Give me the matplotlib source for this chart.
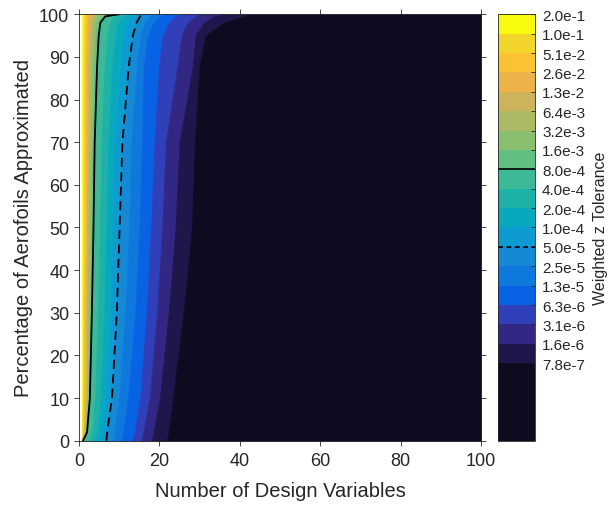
import matplotlib.pyplot as plt
from matplotlib.colors import ListedColormap, LogNorm
from matplotlib.cm import ScalarMappable

plt.rcParams['font.family'] = ['Liberation Sans', 'DejaVu Sans']
plt.rcParams['text.color'] = '#262626'
plt.rcParams['axes.labelcolor'] = '#262626'

# percentage of aerofoils at which the band edges were read
pct = [0, 2, 10, 30, 50, 70, 88, 95, 98, 99.5, 100]

# tolerance levels shown on the colour bar (top to bottom)
tol = [2.048e-1, 1.024e-1, 5.12e-2, 2.56e-2, 1.28e-2, 6.4e-3, 3.2e-3, 1.6e-3,
       8e-4, 4e-4, 2e-4, 1e-4, 5e-5, 2.5e-5, 1.25e-5, 6.25e-6, 3.125e-6,
       1.5625e-6, 7.8125e-7]
tol_labels = ['2.0e-1', '1.0e-1', '5.1e-2', '2.6e-2', '1.3e-2', '6.4e-3',
              '3.2e-3', '1.6e-3', '8.0e-4', '4.0e-4', '2.0e-4', '1.0e-4',
              '5.0e-5', '2.5e-5', '1.3e-5', '6.3e-6', '3.1e-6', '1.6e-6',
              '7.8e-7']

# number of design variables at each contour edge, one row per level
edges = [
    [0.7, 0.7, 0.7, 0.7, 0.7, 0.7, 0.7, 0.7, 0.7, 0.7, 0.7],              # data start
    [0.75, 0.85, 0.95, 1.0, 1.1, 1.1, 1.15, 1.2, 1.25, 1.3, 1.4],          # 1.0e-1
    [0.8, 1.0, 1.15, 1.25, 1.4, 1.4, 1.5, 1.55, 1.6, 1.7, 1.9],            # 5.1e-2
    [0.82, 1.15, 1.4, 1.5, 1.7, 1.75, 1.85, 1.95, 2.0, 2.2, 2.6],          # 2.6e-2
    [0.85, 1.3, 1.65, 1.8, 2.0, 2.1, 2.25, 2.4, 2.5, 2.8, 3.4],            # 1.3e-2
    [0.88, 1.5, 1.9, 2.1, 2.35, 2.5, 2.7, 2.9, 3.1, 3.5, 4.5],             # 6.4e-3
    [0.92, 1.65, 2.15, 2.45, 2.7, 2.9, 3.2, 3.45, 3.8, 4.4, 6.0],          # 3.2e-3
    [0.96, 1.8, 2.4, 2.8, 3.1, 3.35, 3.8, 4.1, 4.5, 5.3, 7.8],             # 1.6e-3
    [1.0, 2.0, 2.7, 3.2, 3.6, 3.9, 4.5, 4.9, 5.3, 6.5, 10.0],              # 8.0e-4
    [2.5, 3.3, 4.0, 4.7, 5.2, 5.6, 6.4, 7.0, 7.6, 8.7, 11.3],              # 4.0e-4
    [3.9, 4.6, 5.4, 6.3, 6.8, 7.3, 8.3, 9.0, 9.8, 11.0, 12.6],             # 2.0e-4
    [5.3, 5.8, 6.8, 7.9, 8.5, 9.0, 10.4, 11.2, 12.0, 13.1, 14.2],          # 1.0e-4
    [6.8, 7.0, 8.2, 9.4, 10.1, 10.8, 12.4, 13.4, 14.3, 15.2, 15.7],        # 5.0e-5
    [8.5, 8.8, 10.0, 11.5, 12.5, 13.0, 14.4, 15.3, 16.3, 17.5, 18.5],      # 2.5e-5
    [10.6, 11.0, 12.2, 14.0, 15.0, 15.7, 16.1, 17.2, 18.5, 20.0, 21.5],    # 1.3e-5
    [13.2, 13.8, 15.2, 16.8, 17.9, 18.8, 19.9, 20.8, 22.3, 24.0, 25.5],    # 6.3e-6
    [15.5, 16.0, 17.6, 19.4, 20.7, 21.6, 24.5, 25.5, 27.0, 29.0, 30.5],    # 3.1e-6
    [18.0, 18.6, 20.1, 22.3, 24.0, 25.0, 28.3, 29.0, 31.0, 33.5, 36.0],    # 1.6e-6
    [21.8, 22.3, 23.4, 26.0, 28.1, 28.8, 30.0, 31.5, 36.0, 41.0, 43.0],    # 7.8e-7
    [100, 100, 100, 100, 100, 100, 100, 100, 100, 100, 100],              # data end
]

# band colours, highest tolerance first
band_colors = ['#f9fb0e', '#f2d52a', '#fcc234', '#eeb24a', '#cdb35c',
               '#adba64', '#8abf70', '#62bf82', '#3cb996', '#1db2a8',
               '#08a8bf', '#0d9bd2', '#1589d6', '#0f78dc', '#0862e4',
               '#3040b8', '#332784', '#1f164c', '#0d0b20']

fig = plt.figure(figsize=(6.13, 5.06), dpi=100)
ax = fig.add_axes([0.1289, 0.1271, 0.6558, 0.8427])
cax = fig.add_axes([0.8124, 0.1271, 0.0604, 0.8427])

for k, c in enumerate(band_colors):
    ax.fill_betweenx(pct, edges[k], edges[k + 1], color=c, ec=c, lw=0.6)

ax.plot(edges[8], pct, color='k', lw=1.3)
ax.plot(edges[12], pct, color='k', lw=1.3, ls=(0, (5, 3)))

ax.set_xlim(0, 100)
ax.set_ylim(0, 100)
ax.set_xticks(range(0, 101, 20))
ax.set_yticks(range(0, 101, 10))
ax.tick_params(direction='out', length=3.5, width=0.6, top=True, right=True,
               labelsize=13, colors='#262626')
ax.tick_params(axis='x', pad=5)
for s in ax.spines.values():
    s.set_color('#262626')
    s.set_linewidth(0.6)
ax.set_xlabel('Number of Design Variables', fontsize=14.5, labelpad=8)
ax.set_ylabel('Percentage of Aerofoils Approximated', fontsize=14.5)

# colour bar: the lowest band runs down to tol[-1] / 16
cmap = ListedColormap([band_colors[-1]] * 4 + band_colors[-2::-1])
norm = LogNorm(vmin=tol[-1] / 16, vmax=tol[0])
cb = fig.colorbar(ScalarMappable(norm=norm, cmap=cmap), cax=cax)
cb.set_ticks(tol)
cb.set_ticklabels(tol_labels)
cb.ax.minorticks_off()
cb.ax.tick_params(direction='in', length=3, width=0.6, labelsize=11, pad=5,
                  colors='#262626')
cb.outline.set_edgecolor('#262626')
cb.outline.set_linewidth(0.6)
cax.axhline(8e-4, color='k', lw=1.2)
cax.axhline(5e-5, color='k', lw=1.2, ls=(0, (3, 2)))
cb.set_label('Weighted z Tolerance', fontsize=11.5, labelpad=6)

fig.savefig('out.png', dpi=100)
